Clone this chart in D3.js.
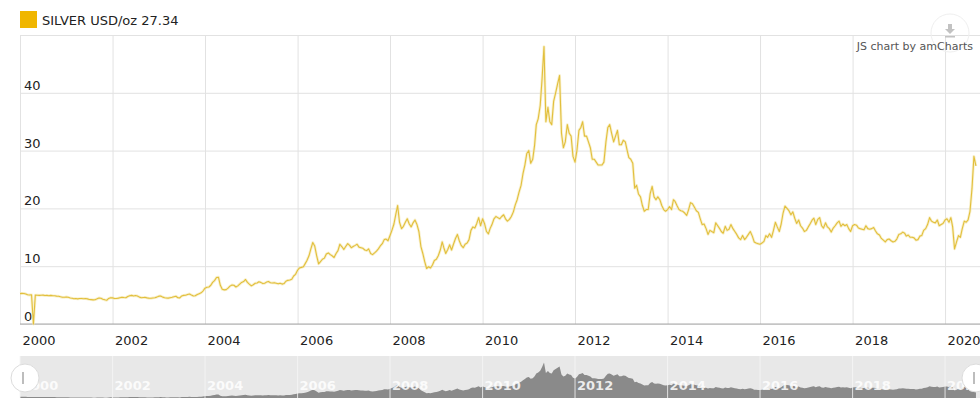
<!DOCTYPE html>
<html>
<head>
<meta charset="utf-8">
<script src="https://cdn.jsdelivr.net/npm/d3@7"></script>
<style>
  body { margin: 0; background: #fff; }
  #chart text { font-family: "DejaVu Sans", Verdana, sans-serif; }
</style>
</head>
<body>
<div id="chart"></div>
<script>
// silver price, USD/oz, read twice a month (1st and 16th)
var s2000 = [5.25,5.30,5.28,5.20,5.05,5.02,5.05,0,5.00,4.98,4.95,4.98,5.00,4.92,4.95,4.90,4.95,4.90,4.88,4.82,4.80,4.70,4.62,4.62];
var s2001 = [4.68,4.62,4.50,4.45,4.38,4.40,4.35,4.40,4.42,4.38,4.40,4.35,4.25,4.22,4.18,4.20,4.35,4.50,4.45,4.30,4.18,4.10,4.42,4.55];
var s2002 = [4.52,4.40,4.42,4.48,4.55,4.62,4.58,4.55,4.75,4.90,4.95,4.85,4.92,4.85,4.65,4.55,4.58,4.60,4.52,4.45,4.45,4.50,4.55,4.65];
var s2003 = [4.82,4.85,4.65,4.55,4.50,4.48,4.55,4.62,4.72,4.80,4.55,4.52,4.85,4.95,4.98,5.10,5.20,5.00,4.85,4.88,5.10,5.25,5.40,5.70];
var s2004 = [6.20,6.35,6.40,6.70,7.20,7.50,8.05,8.10,6.70,6.00,5.90,5.95,6.20,6.55,6.75,6.70,6.40,6.60,6.90,7.20,7.35,7.70,7.20,6.90];
var s2005 = [6.60,6.80,7.05,7.10,7.30,7.20,7.00,7.05,7.25,7.35,7.15,7.10,7.15,7.05,6.95,7.05,6.90,7.00,7.40,7.55,7.60,7.75,8.30,8.60];
var s2006 = [9.30,9.70,9.80,9.90,10.40,11.00,11.80,13.00,14.10,13.50,11.80,10.40,10.80,11.20,11.40,12.10,12.30,12.00,11.80,11.50,12.20,12.70,13.80,13.40];
var s2007 = [12.90,13.40,13.90,13.60,13.20,13.40,13.60,13.80,13.30,13.20,13.10,12.80,12.70,13.00,12.20,12.00,12.30,12.60,13.00,13.50,13.90,14.60,14.70,14.40];
var s2008 = [15.30,16.20,17.30,19.00,20.50,17.60,16.50,16.90,17.60,18.20,17.30,16.80,17.50,18.00,17.20,16.00,13.40,12.20,10.80,9.60,9.90,9.70,10.20,11.00];
var s2009 = [11.20,11.80,12.80,14.20,13.20,12.20,12.90,13.70,12.80,13.80,14.80,15.50,14.40,13.60,13.20,13.80,14.00,14.60,16.20,16.80,16.60,17.40,18.40,17.00];
var s2010 = [18.20,17.40,16.00,15.60,16.50,17.20,18.20,18.60,18.40,18.20,18.60,18.90,18.20,17.80,18.10,18.60,19.40,20.60,21.50,22.80,24.00,26.00,27.50,29.50];
var s2011 = [30.00,27.80,28.50,31.00,34.50,35.50,37.80,42.50,48.00,35.00,37.50,35.00,34.50,38.50,40.00,41.50,43.00,33.00,30.50,31.50,34.50,33.00,32.50,29.00];
var s2012 = [28.00,30.00,33.50,34.00,35.00,32.50,32.50,31.50,30.50,28.50,28.50,28.00,27.50,27.50,27.50,28.00,31.50,34.00,34.50,33.00,31.50,32.50,33.50,31.00];
var s2013 = [31.00,31.80,31.50,30.00,28.80,28.50,27.80,23.50,24.00,22.50,22.00,20.50,19.50,19.80,19.80,22.50,23.80,22.00,21.50,22.00,21.50,20.50,19.80,19.50];
var s2014 = [19.80,20.30,19.80,21.50,21.20,20.50,19.80,19.60,19.50,19.20,18.80,19.80,21.00,20.80,20.20,19.60,19.30,18.20,17.20,17.30,16.50,15.50,16.20,16.00];
var s2015 = [15.80,17.50,17.00,16.50,16.00,15.70,16.90,16.20,16.40,17.20,16.50,16.00,15.50,14.90,14.60,15.30,14.60,15.00,15.50,16.00,15.20,14.20,14.00,13.90];
var s2016 = [13.80,14.00,14.30,15.30,15.00,15.60,15.00,16.20,17.60,16.80,16.00,17.30,19.20,20.40,20.00,19.60,18.90,19.40,18.30,17.40,18.00,17.00,16.60,16.00];
var s2017 = [16.20,16.80,17.40,18.00,18.30,17.20,18.10,18.40,17.00,16.60,17.50,16.80,16.50,15.90,16.60,17.00,17.50,17.80,16.90,17.30,17.00,17.20,16.50,16.00];
var s2018 = [17.00,17.20,17.10,16.60,16.50,16.40,16.30,17.00,16.50,16.40,16.50,16.70,16.10,15.60,15.40,14.80,14.50,14.20,14.60,14.70,14.40,14.20,14.30,14.70];
var s2019 = [15.50,15.60,15.90,15.70,15.20,15.40,15.00,15.00,14.90,14.50,14.60,15.20,15.30,16.20,16.50,17.20,18.40,17.80,17.60,17.50,18.00,17.00,17.20,17.40];
var s2020 = [18.00,18.20,17.60,18.40,16.80,13.00,14.20,15.30,15.00,16.50,17.80,17.60,18.00,19.50,23.50,29.00,27.34];

var years = [2000,2001,2002,2003,2004,2005,2006,2007,2008,2009,2010,2011,2012,2013,2014,2015,2016,2017,2018,2019,2020];
var yearValues = [s2000,s2001,s2002,s2003,s2004,s2005,s2006,s2007,s2008,s2009,s2010,s2011,s2012,s2013,s2014,s2015,s2016,s2017,s2018,s2019,s2020];

var yTickLabels = [0, 10, 20, 30, 40];
var xTickYears = [2000,2002,2004,2006,2008,2010,2012,2014,2016,2018,2020];
var seriesName = "SILVER USD/oz";
var lastPrice = "27.34";
var creditText = "JS chart by amCharts";

var data = [];
years.forEach(function(yr, k) {
  yearValues[k].forEach(function(v, i) {
    data.push({ date: new Date(yr, Math.floor(i / 2), i % 2 ? 16 : 1), value: v });
  });
});

/*********************** Layout *********************/
var width = 980, height = 398;
var plot = { left: 20, right: 980, top: 35, bottom: 324 };
var scroll = { top: 356, bottom: 398 };

var gold = "#e2bf3c";

var xScale = d3.scaleTime()
  .domain([new Date(2000, 0, 1), new Date(2020, 9, 3)])
  .range([plot.left, plot.right]);

var yScale = d3.scaleLinear()
  .domain([0, 50])
  .range([plot.bottom, plot.top]);

// scrollbar preview scale
var yScroll = d3.scaleLinear()
  .domain([0, 50])
  .range([401, 361]);

var tickDates = xTickYears.map(function(y) { return new Date(y, 0, 1); });

var svg = d3.select("#chart").append("svg")
  .attr("width", width)
  .attr("height", height);

/*********************** Grid *********************/
var yAxis = d3.axisLeft(yScale)
  .tickValues(yScale.ticks(5))
  .tickSize(-(plot.right - plot.left))
  .tickFormat("");

svg.append("g")
  .attr("class", "y grid")
  .attr("transform", "translate(" + plot.left + ",0)")
  .call(yAxis)
  .call(function(g) {
    g.select(".domain").remove();
    g.selectAll("line").attr("stroke", "#e2e2e2");
  });

var xGrid = d3.axisBottom(xScale)
  .tickValues(tickDates)
  .tickSize(-(plot.bottom - plot.top))
  .tickFormat("");

svg.append("g")
  .attr("class", "x grid")
  .attr("transform", "translate(0," + plot.bottom + ")")
  .call(xGrid)
  .call(function(g) {
    g.select(".domain").remove();
    g.selectAll("line").attr("stroke", "#e2e2e2");
  });

// base line
svg.append("line")
  .attr("x1", plot.left).attr("x2", plot.right)
  .attr("y1", plot.bottom).attr("y2", plot.bottom)
  .attr("stroke", "#a8a8a8");

/*********************** Axis labels *********************/
svg.append("g").selectAll("text")
  .data(yTickLabels)
  .enter().append("text")
  .attr("x", plot.left + 4)
  .attr("y", function(d) { return yScale(d) - 3; })
  .attr("font-size", 13)
  .attr("fill", "#222")
  .text(function(d) { return d; });

var xAxis = d3.axisBottom(xScale)
  .tickValues(tickDates)
  .tickSize(0)
  .tickFormat(d3.timeFormat("%Y"));

svg.append("g")
  .attr("class", "x axis")
  .attr("transform", "translate(0," + plot.bottom + ")")
  .call(xAxis)
  .call(function(g) {
    g.select(".domain").remove();
    g.selectAll("text")
      .attr("text-anchor", "start")
      .attr("x", 2)
      .attr("y", 21)
      .attr("dy", null)
      .attr("font-size", 13)
      .attr("font-family", null)
      .attr("fill", "#222");
  });

/*********************** Series *********************/
var plotLine = d3.line()
  .x(function(d) { return xScale(d.date); })
  .y(function(d) { return yScale(d.value); });

svg.append("path")
  .datum(data)
  .attr("d", plotLine)
  .attr("fill", "none")
  .attr("stroke", "#f4e6aa")
  .attr("stroke-width", 2.8)
  .attr("stroke-opacity", 0.6)
  .attr("stroke-linejoin", "round");

svg.append("path")
  .datum(data)
  .attr("d", plotLine)
  .attr("fill", "none")
  .attr("stroke", gold)
  .attr("stroke-width", 1.1)
  .attr("stroke-linejoin", "round");

/*********************** Legend *********************/
svg.append("rect")
  .attr("x", 20).attr("y", 11)
  .attr("width", 17).attr("height", 17)
  .attr("fill", "#f0b600");

svg.append("text")
  .attr("x", 42).attr("y", 25)
  .attr("font-size", 13)
  .attr("fill", "#222")
  .text(seriesName + " " + lastPrice);

/*********************** Credit + export button *********************/
svg.append("circle")
  .attr("cx", 950).attr("cy", 33).attr("r", 19)
  .attr("fill", "none")
  .attr("stroke", "#efefef");

var icon = svg.append("g").attr("transform", "translate(950,30)").attr("fill", "#c2c2c2");
icon.append("rect").attr("x", -2).attr("y", -6).attr("width", 4).attr("height", 5);
icon.append("path").attr("d", "M-5,-1 L5,-1 L0,4 Z");
icon.append("rect").attr("x", -5).attr("y", 6).attr("width", 10).attr("height", 1.5);

svg.append("text")
  .attr("x", 973).attr("y", 50)
  .attr("text-anchor", "end")
  .attr("font-size", 11)
  .attr("fill", "#555")
  .text(creditText);

/*********************** Scrollbar *********************/
svg.append("rect")
  .attr("x", plot.left).attr("y", scroll.top)
  .attr("width", plot.right - plot.left)
  .attr("height", scroll.bottom - scroll.top)
  .attr("fill", "#e8e8e8");

var scrollArea = d3.area()
  .x(function(d) { return xScale(d.date); })
  .y0(yScroll(0))
  .y1(function(d) { return yScroll(d.value); });

svg.append("path")
  .datum(data.filter(function(d) { return d.value > 0; }))
  .attr("d", scrollArea)
  .attr("fill", "#8a8a8a");

svg.append("g").selectAll("line")
  .data(tickDates)
  .enter().append("line")
  .attr("x1", function(d) { return xScale(d); })
  .attr("x2", function(d) { return xScale(d); })
  .attr("y1", scroll.top).attr("y2", scroll.bottom)
  .attr("stroke", "#f6f6f6")
  .attr("stroke-opacity", 0.8);

svg.append("g").selectAll("text")
  .data(tickDates)
  .enter().append("text")
  .attr("x", function(d) { return xScale(d) + 2; })
  .attr("y", 390)
  .attr("font-size", 13)
  .attr("font-weight", "bold")
  .attr("fill", "#fff")
  .attr("fill-opacity", 0.85)
  .text(d3.timeFormat("%Y"));

// scrollbar grips
[{ x: 25 }, { x: 976 }].forEach(function(h) {
  svg.append("circle")
    .attr("cx", h.x).attr("cy", 378).attr("r", 14)
    .attr("fill", "#fff")
    .attr("stroke", "#dcdcdc");
  svg.append("line")
    .attr("x1", h.x - 2).attr("x2", h.x - 2)
    .attr("y1", 372).attr("y2", 384)
    .attr("stroke", "#bdbdbd").attr("stroke-width", 2);
});
</script>
</body>
</html>
